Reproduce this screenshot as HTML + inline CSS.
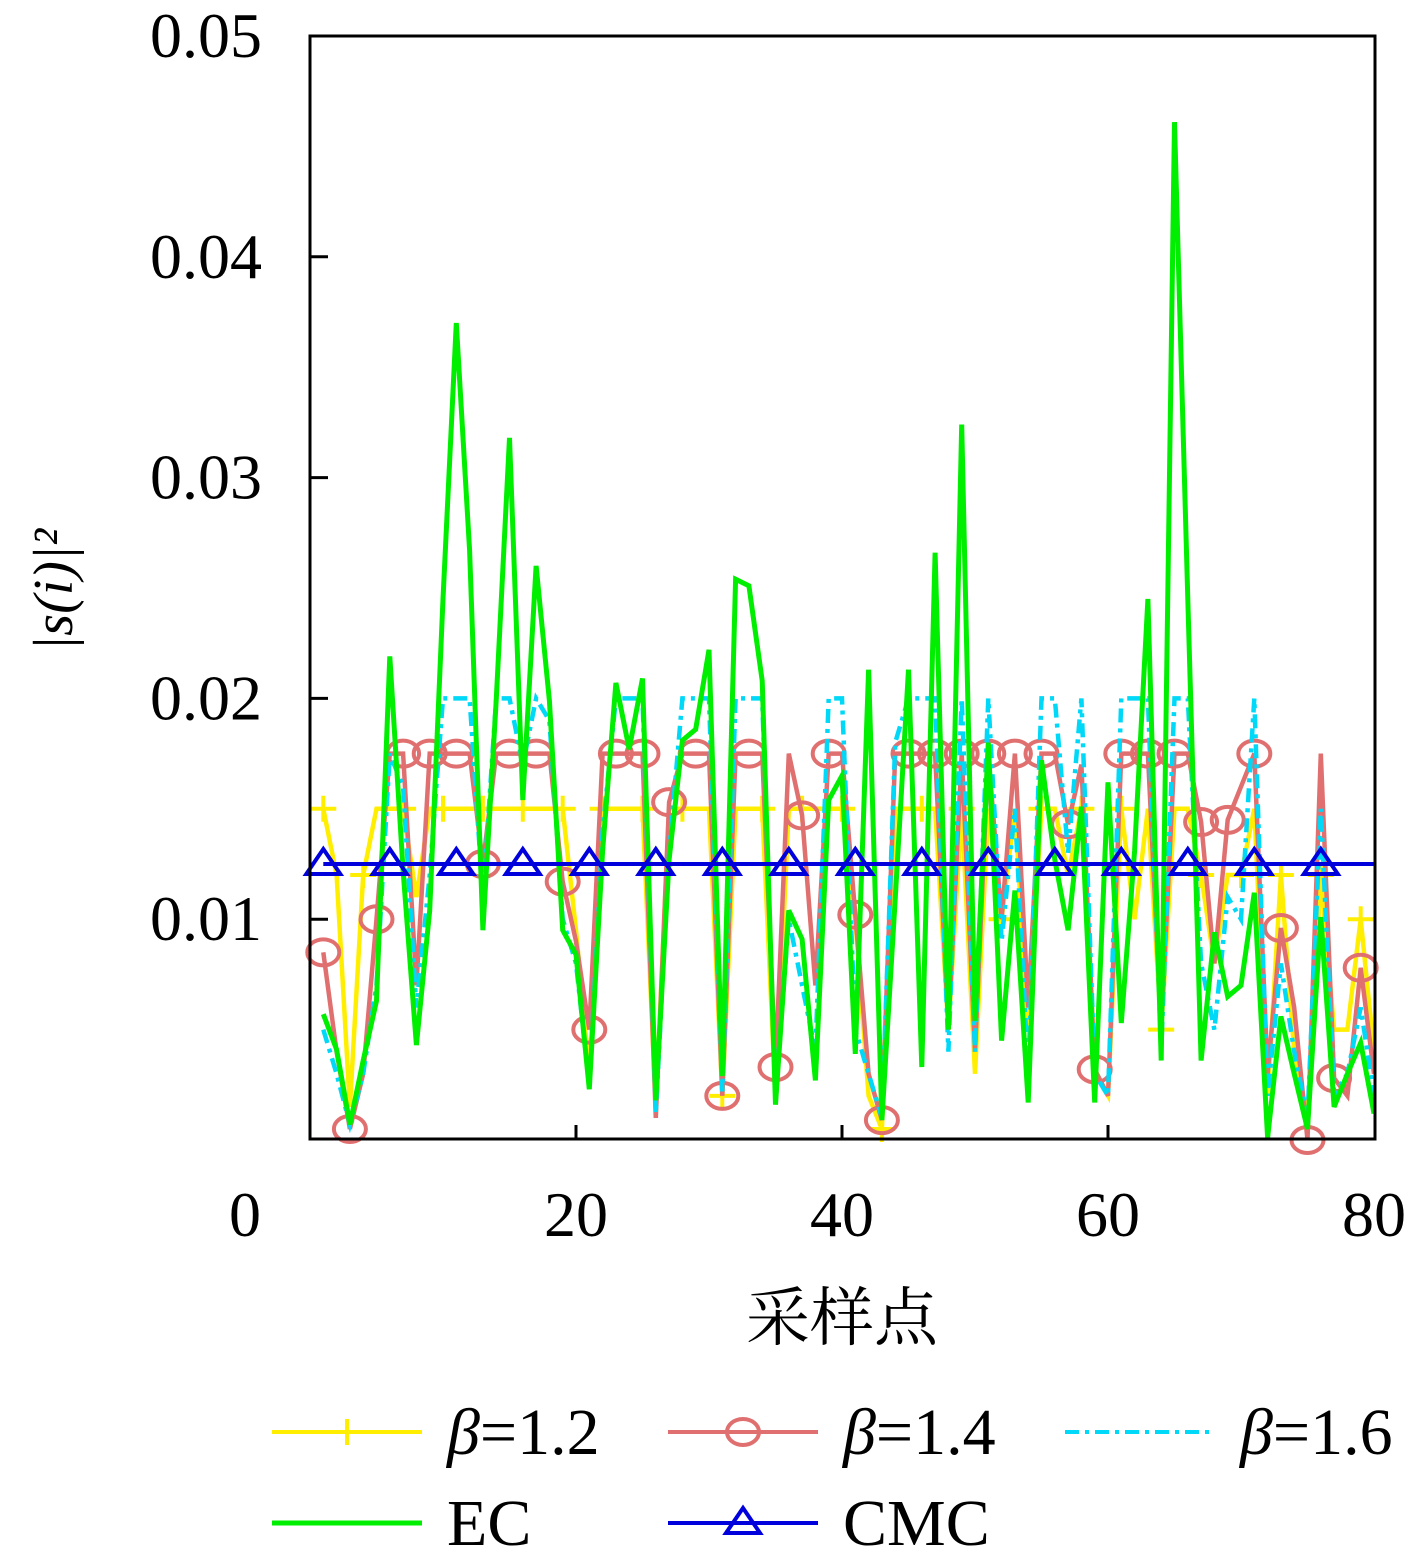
<!DOCTYPE html>
<html><head><meta charset="utf-8">
<style>
html,body{margin:0;padding:0;background:#fff;}
svg{display:block;}
text{font-family:"Liberation Serif","Noto Serif CJK SC",serif;fill:#000;}
</style></head>
<body>
<svg id="chart" width="1417" height="1560" viewBox="0 0 1417 1560" xmlns="http://www.w3.org/2000/svg">
<g id="plot"></g>
<rect x="310" y="36" width="1065" height="1103" fill="none" stroke="#000" stroke-width="3"/>
<g id="axes"></g>
<text transform="translate(72,590) rotate(-90)" text-anchor="middle" font-size="56" font-style="italic">|s(i)|²</text>
<text x="842" y="1340" text-anchor="middle" font-size="64" style="font-family:'Noto Serif CJK SC','Noto Sans CJK SC',serif">采样点</text>
<g id="legend"></g>
</svg>
<script>
// values in units of 1e-3
const yTicks = [0.01,0.02,0.03,0.04,0.05];
const yTickLabels = ["0.01","0.02","0.03","0.04","0.05"];
const xTicks = [0,20,40,60,80];
const xTickLabels = ["0","20","40","60","80"];
const ecVals = [5.7,4.1,0.7,3.6,6.3,21.9,12.2,4.3,10.4,24.5,37.0,26.7,9.5,19.9,31.8,15.4,26.0,19.9,9.5,8.4,2.3,13.1,20.7,17.7,20.9,1.8,12.7,18.1,18.6,22.2,2.9,25.4,25.1,20.8,1.6,10.4,9.1,2.7,15.4,16.5,3.9,21.3,0.9,10.9,21.3,3.3,26.6,5.0,32.4,5.4,18.0,4.5,11.3,1.7,17.2,12.7,9.5,15.1,1.7,16.2,5.3,13.1,24.5,3.6,46.1,24.5,3.6,9.4,6.5,7.0,11.2,0.1,5.6,3.0,0.5,10.1,1.5,3.0,4.4,1.2];
const b14Vals = [8.5,4,0.5,3,10,17.5,17.5,7,17.5,17.5,17.5,17.5,12.5,17.5,17.5,17.5,17.5,17.5,11.7,9,5,17.5,17.5,17.5,17.5,1,15.3,17.5,17.5,17.5,2,17.5,17.5,17.5,3.3,17.5,14.7,7,17.5,17.5,10.2,3,0.9,17.5,17.5,17.5,17.5,5,17.5,4,17.5,10,17.5,6,17.5,17.5,14.3,17,3.2,2,17.5,17.5,17.5,5,17.5,17.5,14.4,8,14.5,16,17.5,3,9.6,6,0,17.5,2.8,2,7.8,3];
const b16Vals = [5,3,0.7,3,7,17.5,16,6,12,20,20,20,11,20,20,17,20,19,10,8,2.5,14,20,20,20,1.2,13,20,20,20,2.2,20,20,20,2,10,7,4,20,20,5,3,1,18,20,20,20,4,20,4,20,9,15,3,20,20,13,20,3,2,20,20,20,4,20,20,8,5,11,10,20,2,8,4,1,15,2,3,6,2];
const b12Vals = [15,12,1.5,12,15,15,15,11,15,15,15,15,15,15,15,15,15,15,15,9.5,3,15,15,15,15,1.5,15,15,15,15,2,15,15,15,2,15,15,15,15,15,10,2,0.5,15,15,15,15,5,15,3,15,10,15,5,15,15,12,15,3,2,15,10,15,5,15,15,12,8,12,12,15,2,12,4,1,12,5,5,10,4];
const cmcVal = 12.5;

const X0=310, X1=1375, Y0=1140, PX20=266;
function xs(i){ return X0 + i*(PX20/20); }
function ys(v){ return Y0 - v*22.08; } // v in 1e-3
function ysReal(v){ return Y0 - v*22080; }
const NS="http://www.w3.org/2000/svg";
const plot=document.getElementById('plot'), axes=document.getElementById('axes'), legend=document.getElementById('legend');
function mk(tag, attrs, parent){ const e=document.createElementNS(NS,tag); for(const k in attrs) e.setAttribute(k,attrs[k]); parent.appendChild(e); return e; }

function drawLine(vals, color, width, dash, name){
  const pts = vals.map((v,i)=>xs(i+1).toFixed(1)+","+ys(v).toFixed(1)).join(" ");
  const p = mk('polyline',{points:pts,fill:'none',stroke:color,'stroke-width':width,'stroke-linejoin':'miter'},plot);
  if(dash) p.setAttribute('stroke-dasharray',dash);
  
  
}
function plus(cx,cy,color,parent){
  const g=mk('path',{d:`M${cx-13},${cy}H${cx+13}M${cx},${cy-13}V${cy+13}`,stroke:color,'stroke-width':4,fill:'none'},parent);
  
  
}
function circ(cx,cy,color,parent){
  const c=mk('ellipse',{cx:cx,cy:cy,rx:16,ry:13,fill:'none',stroke:color,'stroke-width':4},parent);
  
  
}
function tri(cx,cy,color,parent){
  const t=mk('path',{d:`M${cx},${cy-15}L${cx+17},${cy+10}L${cx-17},${cy+10}Z`,fill:'none',stroke:color,'stroke-width':4},parent);
  
  
}

drawLine(b12Vals,'#ffee00',4.5,null,'line-beta-1-2');
b12Vals.forEach((v,i)=>{ if(i%3===0) plus(xs(i+1),ys(v),'#ffee00',plot); });
drawLine(b14Vals,'#e07070',4.5,null,'line-beta-1-4');
b14Vals.forEach((v,i)=>{ if(i%2===0) circ(xs(i+1),ys(v),'#e07070',plot); });
drawLine(b16Vals,'#00d8f8',4.5,'14,6,4,6','line-beta-1-6');
drawLine(ecVals,'#00ee00',5,null,'line-ec');
const cmcArr = ecVals.map(()=>cmcVal);
drawLine(cmcArr,'#0000dd',4,null,'line-cmc');
cmcArr.forEach((v,i)=>{ if(i%5===0) tri(xs(i+1),ys(v),'#0000dd',plot); });

yTicks.forEach((t,k)=>{
  const y=ysReal(t);
  if(k<4){ const l=mk('line',{x1:X0,x2:X0+18,y1:y,y2:y,stroke:'#000','stroke-width':3},axes);
      }
  const tx=mk('text',{x:262,y:y+21,'text-anchor':'end','font-size':64},axes);
  tx.textContent=yTickLabels[k];
   
});
xTicks.forEach((t,k)=>{
  const x=xs(t);
  if(k>0&&k<4){ const l=mk('line',{x1:x,x2:x,y1:1139,y2:1125,stroke:'#000','stroke-width':3},axes);
      }
  const lx = k===0 ? 245 : x;
  const tx=mk('text',{x:lx,y:1236,'text-anchor':'middle','font-size':64},axes);
  tx.textContent=xTickLabels[k];
   
});

const legNames=["β=1.2","β=1.4","β=1.6","EC","CMC"];
const legColors=['#ffee00','#e07070','#00d8f8','#00ee00','#0000dd'];
const legPos=[[272,1432],[668,1432],[1065,1432],[272,1523],[668,1523]];
legNames.forEach((n,k)=>{
  const [x,y]=legPos[k];
  const g=mk('g',{},legend);
  
  
  const l=mk('line',{x1:x,x2:x+150,y1:y,y2:y,stroke:legColors[k],'stroke-width':k===3?5:4},g);
  if(k===2) l.setAttribute('stroke-dasharray','14,6,4,6');
  if(k===0) plus(x+75,y,legColors[k],g);
  if(k===1) circ(x+75,y,legColors[k],g);
  if(k===4) tri(x+75,y,legColors[k],g);
  const t=mk('text',{x:x+175,y:y+22,'font-size':66},g);
  if(n.startsWith('β')){
    const s1=mk('tspan',{'font-style':'italic'},t); s1.textContent='β';
    const s2=mk('tspan',{},t); s2.textContent=n.slice(1);
  } else t.textContent=n;
});
</script>
</body></html>
